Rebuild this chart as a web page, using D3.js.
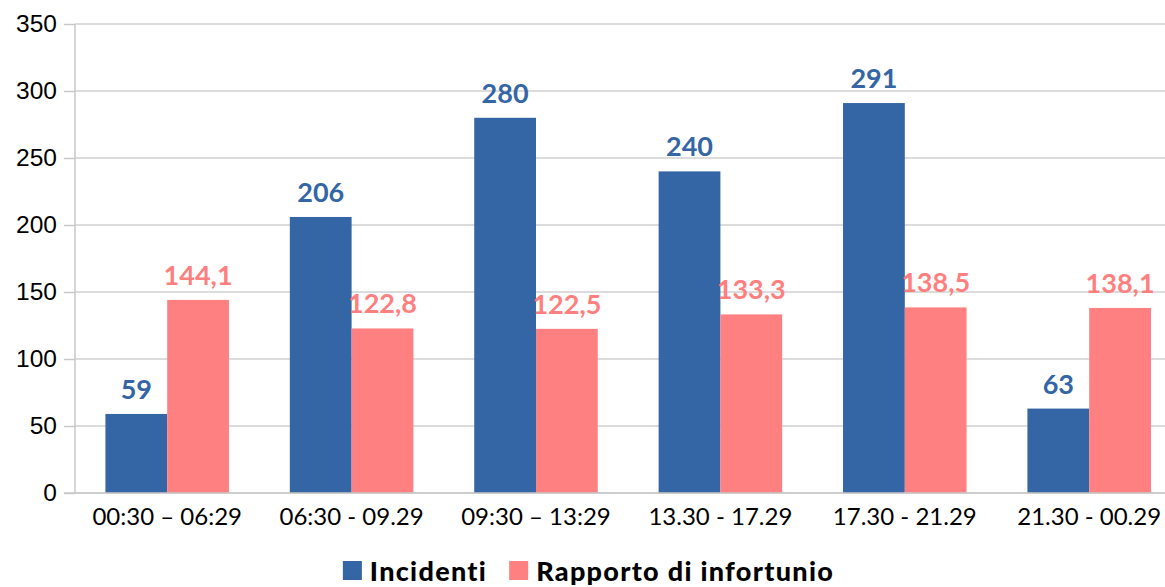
<!DOCTYPE html>
<html>
<head>
<meta charset="utf-8">
<script src="https://cdn.jsdelivr.net/npm/d3@7"></script>
<style>
  html, body { margin: 0; padding: 0; background: #fff; }
  svg { display: block; }
</style>
</head>
<body>
<svg id="chart" width="1165" height="587"></svg>
<script>
const categories = ["00:30 \u2013 06:29", "06:30 - 09.29", "09:30 \u2013 13:29", "13.30 - 17.29", "17.30 - 21.29", "21.30 - 00.29"];
const seriesNames = ["Incidenti", "Rapporto di infortunio"];
const incidenti = [59, 206, 280, 240, 291, 63];
const rapporto = [144.1, 122.8, 122.5, 133.3, 138.5, 138.1];
const yTicks = [0, 50, 100, 150, 200, 250, 300, 350];
const colors = ["#3465a4", "#ff8080"];
const labelColors = ["#3465a4", "#ff7f7f"];

const series = [incidenti, rapporto];
const svg = d3.select("#chart");
const mLeft = 75, mRight = 1181.4, mTop = 24, mBottom = 493;

const x0 = d3.scaleBand().domain(categories).range([mLeft, mRight]).paddingInner(0.33).paddingOuter(0.165);
const x1 = d3.scaleBand().domain(seriesNames).range([0, x0.bandwidth()]).padding(0);
const y = d3.scaleLinear().domain([0, 350]).range([mBottom, mTop]);

// gridlines
svg.append("g").selectAll("line").data(yTicks).join("line")
  .attr("x1", mLeft).attr("x2", mRight)
  .attr("y1", d => y(d)).attr("y2", d => y(d))
  .attr("stroke", "#d0d0d0").attr("stroke-width", 1.5);

// y axis
const yAxis = d3.axisLeft(y).tickValues(yTicks).tickSize(11).tickPadding(7).tickFormat(d3.format("d"));
const gy = svg.append("g").attr("transform", `translate(${mLeft},0)`).call(yAxis);
gy.select(".domain").remove();
gy.selectAll(".tick line").attr("stroke", "#c8c8c8").attr("stroke-width", 1.5);
gy.selectAll(".tick text").attr("fill", "#000").style("font-family", "'Liberation Sans', Arial, sans-serif").style("font-size", "24.5px");

// y axis line
svg.append("line").attr("x1", mLeft).attr("x2", mLeft).attr("y1", mTop).attr("y2", mBottom)
  .attr("stroke", "#c8c8c8").attr("stroke-width", 1.5);

// bars
const groups = svg.append("g").selectAll("g").data(categories).join("g")
  .attr("transform", d => `translate(${x0(d)},0)`);

groups.selectAll("rect").data((c, i) => seriesNames.map((s, j) => ({s, j, v: series[j][i]}))).join("rect")
  .attr("x", d => x1(d.s))
  .attr("width", x1.bandwidth())
  .attr("y", d => y(d.v))
  .attr("height", d => y(0) - y(d.v))
  .attr("fill", d => colors[d.j]);

// bottom axis line over bars
svg.append("line").attr("x1", mLeft - 11).attr("x2", mRight).attr("y1", y(0)).attr("y2", y(0))
  .attr("stroke", "#c8c8c8").attr("stroke-width", 1.5);

// data labels
const fmt = d => d % 1 === 0 ? String(d) : d.toFixed(1).replace(".", ",");
groups.selectAll("text.lbl").data((c, i) => seriesNames.map((s, j) => ({s, j, v: series[j][i]}))).join("text")
  .attr("class", "lbl")
  .attr("x", d => x1(d.s) + x1.bandwidth() / 2)
  .attr("y", d => y(d.v) - 15)
  .attr("text-anchor", "middle")
  .attr("fill", d => labelColors[d.j])
  .style("font-family", "Lato, sans-serif")
  .style("font-weight", "bold")
  .style("font-size", "27px")
  .text(d => fmt(d.v));

// x labels
svg.append("g").selectAll("text").data(categories).join("text")
  .attr("x", d => x0(d) + x0.bandwidth() / 2)
  .attr("y", 525)
  .attr("text-anchor", "middle")
  .attr("fill", "#000")
  .style("font-family", "Lato, sans-serif")
  .style("font-size", "24px")
  .text(d => d);

// legend
const legend = svg.append("g");
const items = legend.selectAll("g").data(seriesNames).join("g");
items.append("rect").attr("width", 19).attr("height", 19).attr("y", 561).attr("fill", (d, i) => colors[i]);
items.append("text").attr("y", 581).attr("x", 27)
  .attr("fill", "#000")
  .style("font-family", "Lato, sans-serif")
  .style("font-weight", "900")
  .style("font-size", "27px")
  .style("letter-spacing", "1.3px")
  .text(d => d);
let widths = [];
items.each(function() { widths.push(27 + d3.select(this).select("text").node().getBBox().width); });
const gap = 22;
const total = widths[0] + gap + widths[1];
let cx = 588.5 - total / 2;
items.each(function(d, i) {
  d3.select(this).attr("transform", `translate(${cx},0)`);
  cx += widths[i] + gap;
});
</script>
</body>
</html>
